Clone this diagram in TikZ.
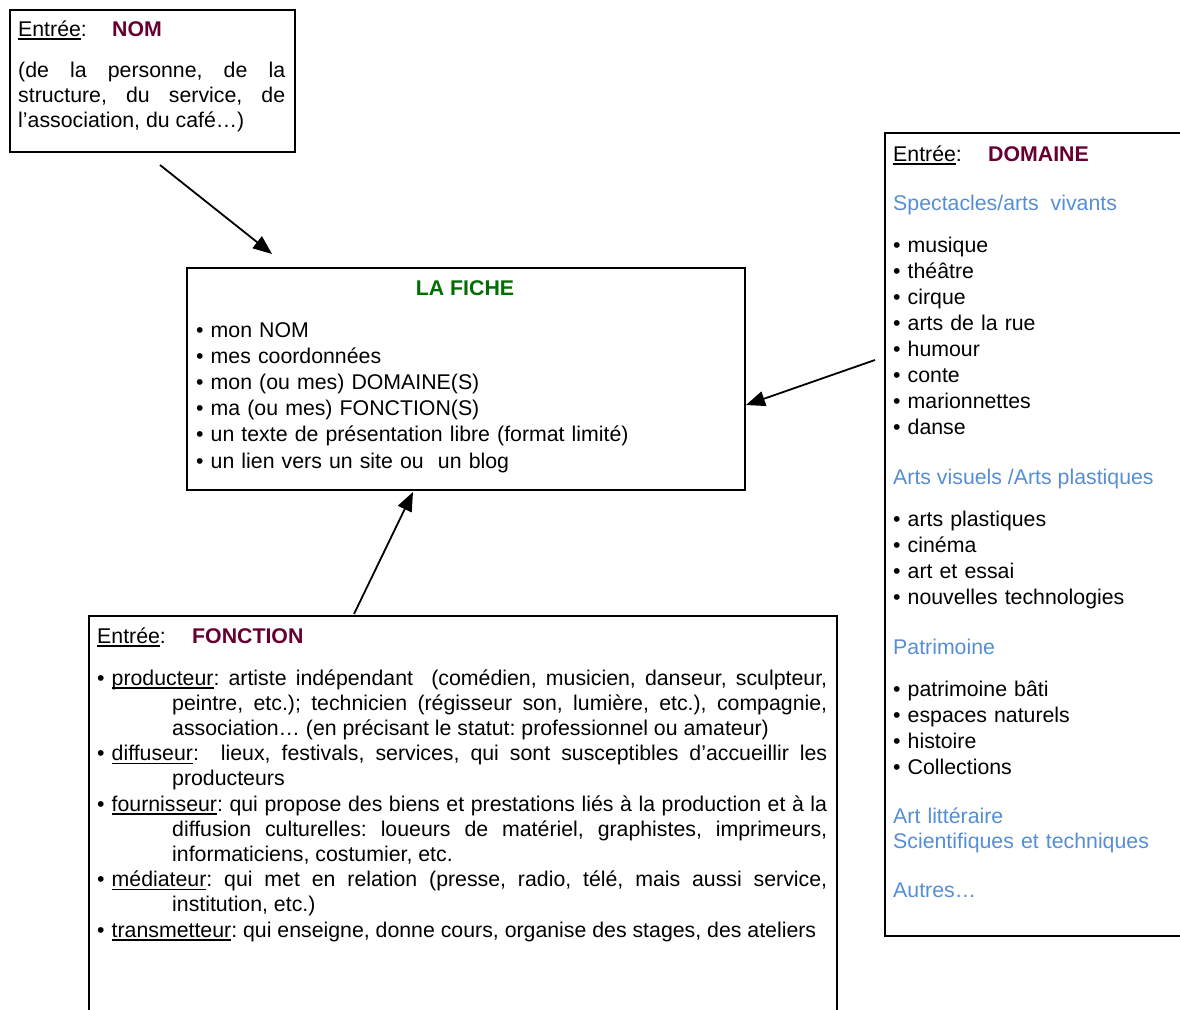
\documentclass[tikz,border=0pt]{standalone}
\usepackage{fontspec}
\setmainfont{Liberation Sans}
\usetikzlibrary{arrows.meta}
\definecolor{maroon}{RGB}{102,0,51}
\definecolor{fgreen}{RGB}{0,110,0}
\definecolor{lblue}{RGB}{85,142,213}
\newcommand{\ulw}[1]{\setbox0\hbox{#1}\rlap{\rule[-3.8pt]{\wd0}{1.5pt}}\box0}
\newcommand{\bul}{\makebox[14.5pt][l]{\textbullet}}
\newcommand{\fsz}{\fontsize{21.3pt}{26pt}\selectfont}
\newcommand{\itm}{\par\hangindent=75pt\hangafter=1\noindent\bul}
\frenchspacing
\begin{document}
\begin{tikzpicture}[x=1pt,y=-1pt,
  box/.style={draw, line width=1.5pt, anchor=north west, inner sep=0pt},
  txt/.style={anchor=base west, inner sep=0pt, font=\fsz},
  ttl/.style={anchor=base west, inner sep=0pt, font=\fsz\bfseries, text=maroon},
  arr/.style={line width=1.8pt, -{Triangle[length=19pt,width=15pt]}}]
\useasboundingbox (0,0) rectangle (1180,1009);

% ---- NOM box
\node[box, minimum width=285pt, minimum height=142pt] (nom) at (9,9) {};
\node[txt] (nomE) at (18,36) {\ulw{Entrée}:};
\node[ttl] (nomT) at (112,36) {NOM};
\node[txt, text width=267pt, align=justify, font=\fontsize{21.3pt}{25pt}\selectfont] (nomP) at (18,77)
  {(de la personne, de la\linebreak structure, du service, de\linebreak l’association, du café…)};

% ---- LA FICHE box
\node[box, minimum width=558pt, minimum height=222pt] (fiche) at (186,267) {};
\node[anchor=base, inner sep=0pt, font=\fsz\bfseries, text=fgreen] (ficheT) at (465,295) {LA FICHE};
\node[txt, text width=540pt, align=left, font=\fontsize{21.3pt}{26.2pt}\selectfont] (ficheL) at (196,337)
  {\bul mon NOM\\\bul mes coordonnées\\\bul mon (ou mes) DOMAINE(S)\\\bul ma (ou mes) FONCTION(S)\\\bul un texte de présentation libre (format limité)\\\bul un lien vers un site ou\ \ un blog};

% ---- DOMAINE box
\node[box, minimum width=320pt, minimum height=803pt] (dom) at (884,132) {};
\node[txt] (domE) at (893,161) {\ulw{Entrée}:};
\node[ttl] (domT) at (988,161) {DOMAINE};
\node[txt, text=lblue] (domH1) at (893,210) {Spectacles/arts\ \ vivants};
\node[txt, text width=280pt, align=left] (domL1) at (893,252)
  {\bul musique\\\bul théâtre\\\bul cirque\\\bul arts de la rue\\\bul humour\\\bul conte\\\bul marionnettes\\\bul danse};
\node[txt, text=lblue] (domH2) at (893,484) {Arts visuels /Arts plastiques};
\node[txt, text width=280pt, align=left] (domL2) at (893,526)
  {\bul arts plastiques\\\bul cinéma\\\bul art et essai\\\bul nouvelles technologies};
\node[txt, text=lblue] (domH3) at (893,654) {Patrimoine};
\node[txt, text width=280pt, align=left] (domL3) at (893,696)
  {\bul patrimoine bâti\\\bul espaces naturels\\\bul histoire\\\bul Collections};
\node[txt, text=lblue, text width=280pt, align=left, font=\fontsize{21.3pt}{25pt}\selectfont] (domH4) at (893,823)
  {Art littéraire\\Scientifiques et techniques};
\node[txt, text=lblue] (domH5) at (893,897) {Autres…};

% ---- FONCTION box
\node[box, minimum width=748pt, minimum height=420pt] (fonc) at (88,615) {};
\node[txt] (foncE) at (97,643) {\ulw{Entrée}:};
\node[ttl] (foncT) at (192,643) {FONCTION};
\node[txt, text width=730pt, align=justify, font=\fontsize{21.3pt}{25.2pt}\selectfont] (foncL) at (97,685)
  {\hangindent=75pt\hangafter=1\noindent\bul\ulw{producteur}: artiste indépendant\ \ (comédien, musicien, danseur, sculpteur,\linebreak
   peintre, etc.); technicien (régisseur son, lumière, etc.), compagnie,\linebreak
   association… (en précisant le statut: professionnel ou amateur)
   \itm\ulw{diffuseur}:\ \ lieux, festivals, services, qui sont susceptibles d’accueillir les\linebreak
   producteurs
   \itm\ulw{fournisseur}: qui propose des biens et prestations liés à la production et à la\linebreak
   diffusion culturelles: loueurs de matériel, graphistes, imprimeurs,\linebreak
   informaticiens, costumier, etc.
   \itm\ulw{médiateur}: qui met en relation (presse, radio, télé, mais aussi service,\linebreak
   institution, etc.)
   \itm\ulw{transmetteur}: qui enseigne, donne cours, organise des stages, des ateliers\par};

% ---- connectors
\coordinate (a1s) at (160,165);
\coordinate (a1e) at (272,254);
\coordinate (a2s) at (875,360);
\coordinate (a2e) at (746,405);
\coordinate (a3s) at (354,614);
\coordinate (a3e) at (413,492);
\draw[arr] (a1s) -- (a1e);
\draw[arr] (a2s) -- (a2e);
\draw[arr] (a3s) -- (a3e);
\end{tikzpicture}
\end{document}
